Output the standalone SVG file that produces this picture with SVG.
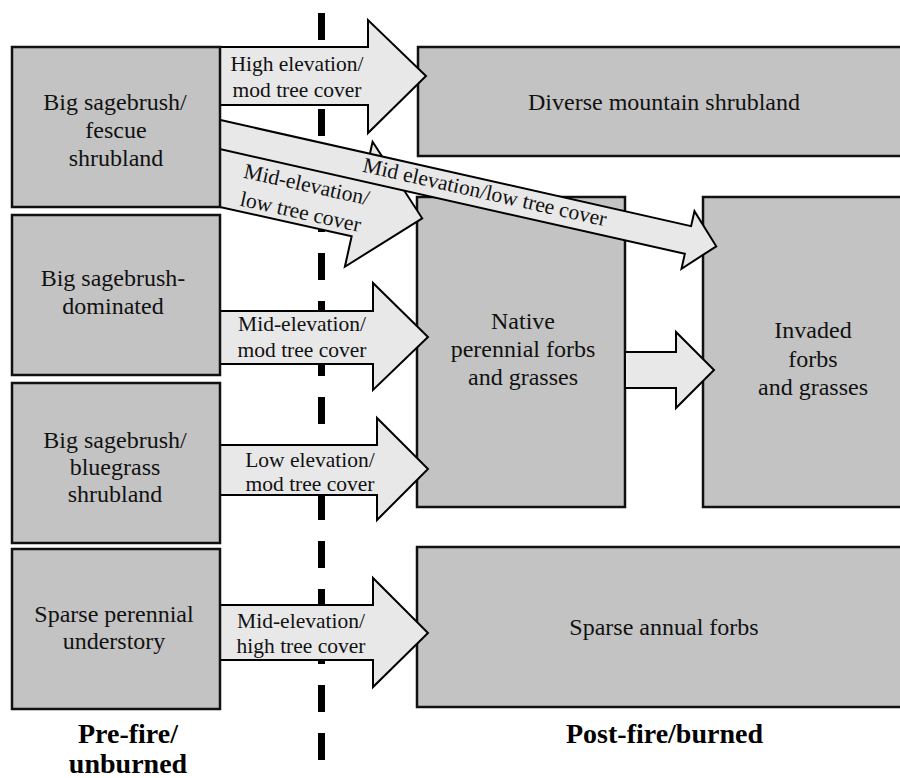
<svg xmlns="http://www.w3.org/2000/svg" width="900" height="778" viewBox="0 0 900 778">
<defs>
<style>
.box{fill:#c3c3c3;stroke:#111;stroke-width:2.5}
.arr{fill:#e8e8e8;stroke:#000;stroke-width:2;stroke-linejoin:miter}
.t{font-family:"Liberation Serif","Times New Roman",serif;font-size:24px;fill:#111;text-anchor:middle}
.a{font-family:"Liberation Serif","Times New Roman",serif;font-size:21.5px;fill:#111;text-anchor:middle}
.h{font-family:"Liberation Serif","Times New Roman",serif;font-size:28px;font-weight:bold;fill:#000;text-anchor:middle}
</style>
</defs>
<rect width="900" height="778" fill="#fff"/>
<line x1="321.5" y1="13" x2="321.5" y2="760" stroke="#000" stroke-width="7" stroke-dasharray="27 21"/>

<g id="diverse">
<rect class="box" x="418" y="47" width="500" height="109"/>
<text class="t" x="664" y="110">Diverse mountain shrubland</text>
</g>
<g id="native">
<rect class="box" x="417" y="197" width="208" height="310"/>
<text class="t" x="523" y="329">Native</text>
<text class="t" x="523" y="357">perennial forbs</text>
<text class="t" x="523" y="385">and grasses</text>
</g>
<g id="invaded">
<rect class="box" x="703" y="197" width="230" height="310"/>
<text class="t" x="813" y="338">Invaded</text>
<text class="t" x="813" y="367">forbs</text>
<text class="t" x="813" y="395">and grasses</text>
</g>
<g id="sparse-annual">
<rect class="box" x="417" y="547" width="500" height="160"/>
<text class="t" x="664" y="635">Sparse annual forbs</text>
</g>

<g id="connectors">
<g transform="translate(220,173.5) rotate(12.5)">
<polygon class="arr" points="-8,-32.7 142.1,-32.7 142.1,-64 207.1,0 142.1,64 142.1,32.7 -8,32.7"/>
<text class="a" x="87" y="-1">Mid-elevation/</text>
<text class="a" x="87" y="27">low tree cover</text>
</g>
<g transform="translate(220,134.5) rotate(12.7)">
<polygon class="arr" points="-5,-14.2 479.7,-14.2 479.7,-29.5 508.7,0 479.7,29.5 479.7,14.2 -5,14.2"/>
<text class="a" x="271" y="5">Mid elevation/low tree cover</text>
</g>
<polygon class="arr" points="218,47 368,47 368,20 426,76 368,133 368,105 218,105"/>
<text class="a" x="297" y="70.5">High elevation/</text>
<text class="a" x="297" y="96.5">mod tree cover</text>
<polygon class="arr" points="218,311 373,311 373,283 428,337 373,390 373,364 218,364"/>
<text class="a" x="302" y="331">Mid-elevation/</text>
<text class="a" x="302" y="357">mod tree cover</text>
<polygon class="arr" points="218,445 377,445 377,418 428,469 377,520 377,495 218,495"/>
<text class="a" x="310" y="466.5">Low elevation/</text>
<text class="a" x="310" y="491">mod tree cover</text>
<polygon class="arr" points="218,605 373,605 373,578 428,633 373,687 373,660 218,660"/>
<text class="a" x="301" y="628">Mid-elevation/</text>
<text class="a" x="301" y="653">high tree cover</text>
<polygon class="arr" points="625,352 676,352 676,332 714,370 676,408 676,388 625,388"/>
</g>

<g id="fescue">
<rect class="box" x="12" y="47" width="208" height="160"/>
<text class="t" x="115" y="110">Big sagebrush/</text>
<text class="t" x="116" y="138">fescue</text>
<text class="t" x="116" y="166">shrubland</text>
</g>
<g id="dominated">
<rect class="box" x="12" y="215" width="208" height="160"/>
<text class="t" x="113" y="285.5">Big sagebrush-</text>
<text class="t" x="113" y="313.5">dominated</text>
</g>
<g id="bluegrass">
<rect class="box" x="12" y="383" width="208" height="160"/>
<text class="t" x="115" y="448">Big sagebrush/</text>
<text class="t" x="115" y="475">bluegrass</text>
<text class="t" x="115" y="502">shrubland</text>
</g>
<g id="sparse-perennial">
<rect class="box" x="12" y="549" width="208" height="160"/>
<text class="t" x="114" y="622">Sparse perennial</text>
<text class="t" x="114" y="649">understory</text>
</g>

<g id="labels">
<text class="h" x="128" y="743">Pre-fire/</text>
<text class="h" x="128" y="773">unburned</text>
<text class="h" x="664.5" y="743">Post-fire/burned</text>
</g>
</svg>
